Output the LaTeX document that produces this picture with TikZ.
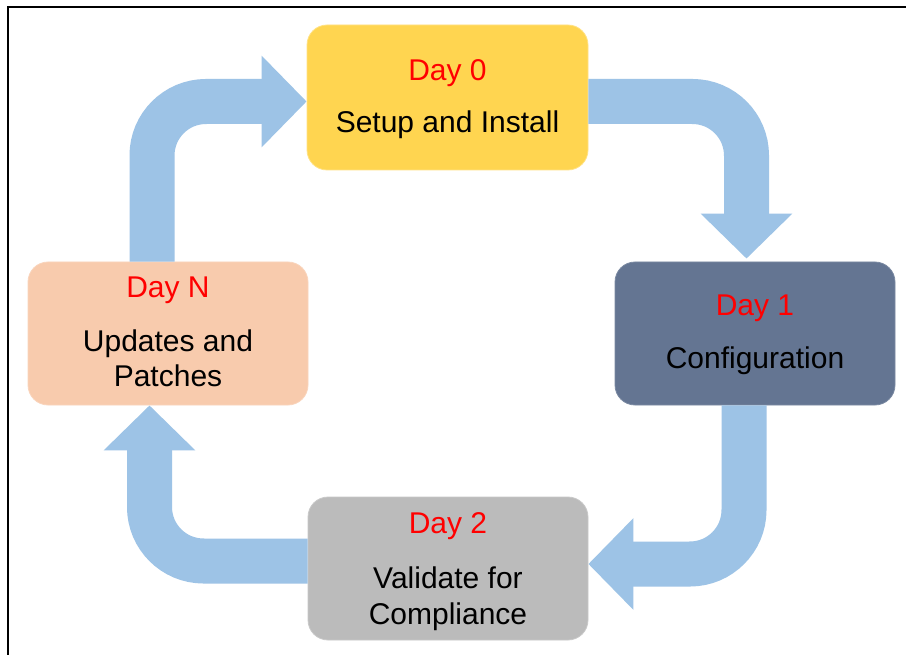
\documentclass[tikz,border=0pt]{standalone}
\usepackage{fontspec}
\setmainfont{Liberation Sans}
\usetikzlibrary{arrows.meta,calc}

\definecolor{goldbox}{HTML}{FFD550}
\definecolor{slatebox}{HTML}{647592}
\definecolor{greybox}{HTML}{BBBBBB}
\definecolor{peachbox}{HTML}{F8CBAD}
\definecolor{flowblue}{HTML}{9DC3E6}
\definecolor{dayred}{HTML}{FF0000}

\tikzset{
  stagebox/.style={rounded corners=20pt, minimum width=280pt, minimum height=143pt,
    inner sep=0pt, line width=0.8pt},
  dayname/.style={anchor=base, inner sep=0pt, text=dayred,
    font=\fontsize{30}{36}\selectfont},
  daytask/.style={anchor=base, inner sep=0pt, text=black,
    font=\fontsize{30}{36}\selectfont},
  flow/.style={draw=flowblue, line width=45pt, rounded corners=54pt, line cap=butt,
    -{Triangle[width=89pt,length=45pt]}},
}

\begin{document}
\begin{tikzpicture}[x=1pt, y=-1pt]
  \useasboundingbox (0,0) rectangle (906,655);
  \fill[white] (0,0) rectangle (906,655);

  % frame edges
  \draw[line width=1.6pt, line cap=rect] (8,656) -- (8,7) -- (907,7);

  % stage boxes
  \node[stagebox, fill=goldbox, draw=goldbox!70!white, minimum width=281pt, minimum height=145pt]
    (d0) at (447.5,97.5) {};
  \node[stagebox, fill=slatebox, draw=slatebox!85!white] (d1) at (755,333.5) {};
  \node[stagebox, fill=greybox, draw=greybox!80!white] (d2) at (448,568.5) {};
  \node[stagebox, fill=peachbox, draw=peachbox!80!white] (dN) at (168,333.5) {};

  % labels
  \node[dayname] (d0a) at (447.5,81) {Day 0};
  \node[daytask] (d0b) at (447.5,133) {Setup and Install};

  \node[dayname] (d1a) at (755,316) {Day 1};
  \node[daytask] (d1b) at (755,369) {Configuration};

  \node[dayname] (d2a) at (448,533) {Day 2};
  \node[daytask] (d2b) at (448,588) {Validate for};
  \node[daytask] (d2c) at (448,624) {Compliance};

  \node[dayname] (dNa) at (168,298) {Day N};
  \node[daytask] (dNb) at (168,352) {Updates and};
  \node[daytask] (dNc) at (168,387) {Patches};

  % cycle arrows
  \draw[flow] ($(dN.north)+(-16,0)$) |- ($(d0.west)+(0,4)$);
  \draw[flow] ($(d0.east)+(0,4)$) -| ($(d1.north)+(-8.5,-3)$);
  \draw[flow] ($(d1.south)+(-11,0)$) |- ($(d2.east)+(0,-4.5)$);
  \draw[flow] ($(d2.west)+(0,-7.5)$) -| ($(dN.south)+(-18.5,0)$);
\end{tikzpicture}
\end{document}
